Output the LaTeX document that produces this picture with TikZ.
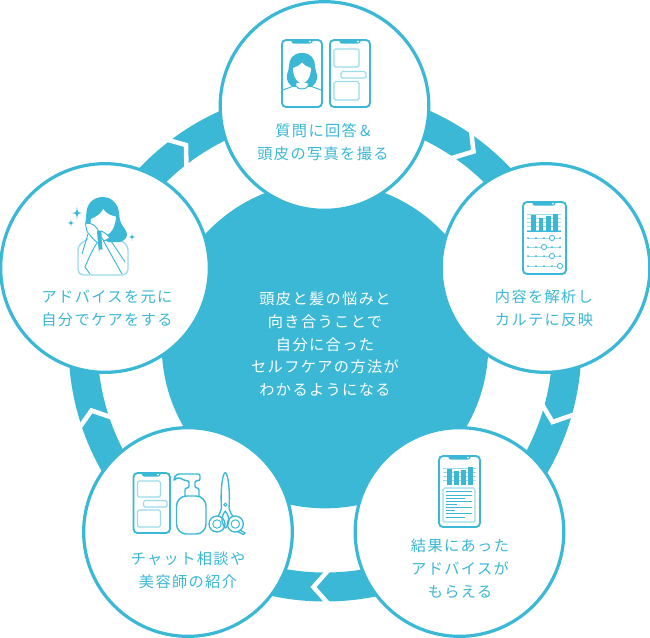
\documentclass[tikz,border=0pt]{standalone}
\usepackage{fontspec}
\newfontfamily\jpf[LetterSpace=9]{Noto Sans CJK JP}
\definecolor{teal1}{HTML}{3AB8D6}
\definecolor{teal2}{HTML}{9ADCEB}
\newcommand{\phonebody}[4]{% x1 y1 x2 y2
  \draw[teal1,line width=1.4,rounded corners=3,fill=white] (#1,#2) rectangle (#3,#4);
}
\newcommand{\notch}[3]{% x1 x2 y
  \fill[teal1] (#1,#3) -- (#2,#3) .. controls (#2-1,#3+3.6) and (#2-2,#3+3.6) .. (#2-3,#3+3.6) -- (#1+3,#3+3.6) .. controls (#1+2,#3+3.6) and (#1+1,#3+3.6) .. (#1,#3) -- cycle;
  \fill[white] (#2-3,#3+1.6) circle (0.9);
}
\newcommand{\bubble}[4]{\draw[bub] (#1,#2) rectangle (#3,#4);}
\newcommand{\sparkle}[3]{\fill[teal1] (#1,#2-#3) .. controls (#1+.1*#3,#2-.1*#3) .. (#1+#3*.8,#2) .. controls (#1+.1*#3,#2+.1*#3) .. (#1,#2+#3) .. controls (#1-.1*#3,#2+.1*#3) .. (#1-#3*.8,#2) .. controls (#1-.1*#3,#2-.1*#3) .. (#1,#2-#3) -- cycle;}
\tikzset{
  x=0.75pt,y=-0.75pt,
  chev/.style={draw=white,line width=3.4pt,line join=miter},
  stepcircle/.style={circle,draw=teal1,line width=2.4pt,fill=white,minimum size=156.5pt,inner sep=0pt},
  lab/.style={text=teal1,font=\jpf\fontsize{11.4pt}{17.2pt}\selectfont,align=center,inner sep=0pt},
  centerlab/.style={text=white,font=\jpf\fontsize{11.4pt}{17.2pt}\selectfont,align=center,inner sep=0pt},
  thin1/.style={draw=teal1,line width=0.7pt},
  thin2/.style={draw=teal2,line width=0.6pt},
  bub/.style={draw=teal2,line width=0.9pt,rounded corners=1.2pt},
  main1/.style={draw=teal1,line width=1pt,line join=round},
}
\begin{document}
\begin{tikzpicture}
\useasboundingbox (0,0) rectangle (650,637);
% ring
\node[circle,draw=teal1,line width=21.75pt,minimum size=363pt,inner sep=0pt] (ring) at (325,345) {};
% chevron gaps
\draw[chev] (161,138) -- (186,145) -- (186.5,170);
\draw[chev] (470.5,125) -- (473.5,151.5) -- (447,159.5);
\draw[chev] (540,401) -- (552.5,422) -- (580,412.5);
\draw[chev] (332,566) -- (313.5,587) -- (332,608);
\draw[chev] (75,434) -- (91.5,410.5) -- (116,419);
% centre disc
\node[circle,fill=teal1,minimum size=245pt,inner sep=0pt] (disc) at (325,345) {};
% circles
\node[stepcircle] (top) at (324.5,106) {};
\node[stepcircle] (right) at (545.5,268) {};
\node[stepcircle] (bright) at (459.5,532) {};
\node[stepcircle] (bleft) at (188,532) {};
\node[stepcircle] (left) at (105,268) {};

% top icon: left phone
\phonebody{282}{40}{322}{107}
\notch{291}{313}{40}
\fill[teal1] (302,53) .. controls (293,53) and (289,59) .. (289,66) .. controls (289,71) and (286,74) .. (287,79) .. controls (288,84) and (292,88) .. (297,87) -- (307,87) .. controls (312,88) and (316,84) .. (317,79) .. controls (318,74) and (315,71) .. (315,66) .. controls (315,59) and (311,53) .. (302,53) -- cycle;
\fill[white] (302,62.5) .. controls (299,66) and (296,67) .. (293,68) .. controls (293,76) and (297,83.5) .. (302,83.5) .. controls (307,83.5) and (311,76) .. (311,68) .. controls (308,67) and (305,66) .. (302,62.5) -- cycle;
\draw[thin1,fill=white] (296,83) -- (296,86) .. controls (298,90) and (306,90) .. (308,86) -- (308,83);
\draw[thin1] (283,90) -- (295,85.5) (309,85.5) -- (321,90);
% top icon: right phone
\phonebody{330}{40}{370}{107}
\notch{339}{361}{40}
\bubble{334}{49}{359}{67}
\bubble{341}{71.5}{366}{78}
\bubble{334}{81.5}{359}{100}

% right icon
\phonebody{523}{202}{566}{274}
\notch{532}{556}{202}
\foreach \yy in {214,218,222,226,230} \draw[thin2] (527,\yy) -- (561,\yy);
\foreach \xa/\ya in {531/215,538.5/218,546/216,553/213.5} \fill[teal1] (\xa,\ya) rectangle (\xa+4.6,231);
\draw[thin1] (527,231.5) -- (561,231.5);
\foreach \yy/\rr in {238/552,247/544,256/552,266/560}{
  \draw[teal2,line width=.7pt] (528,\yy) -- (561,\yy);
  \foreach \dd in {528,536,544,552,560} \fill[teal1] (\dd,\yy) circle (1);
  \draw[teal1,line width=.6pt,fill=white] (\rr,\yy) circle (2.6);
}

% bottom right icon
\phonebody{439}{456}{480}{527}
\notch{448}{471}{456}
\foreach \yy in {468,472,476,480} \draw[thin2] (443,\yy) -- (476,\yy);
\foreach \xa/\ya in {447/468.5,454/471,461/470,468/467} \fill[teal1] (\xa,\ya) rectangle (\xa+4.6,484.5);
\draw[bub] (443,488) rectangle (475,522);
\foreach \yy/\xe in {491.5/472,495/472,498/465,501.5/472,504.5/457,507.5/472,510.5/455,513.5/472,517/465}
  \draw[teal1,line width=.65pt] (446,\yy) -- (\xe,\yy);

% bottom left icon
\phonebody{133.5}{473}{170}{533}
\notch{141.5}{161}{473}
\bubble{137.5}{481}{160.5}{497}
\bubble{143.5}{500.5}{167}{507}
\bubble{137.5}{510}{160.5}{527}
% pump bottle
\draw[main1,line width=1.1pt,rounded corners=1.5] (185,496) -- (185,488) -- (189,488) -- (189,480.7) -- (184,480.7) .. controls (181,478) and (177,477) .. (174,481) -- (174,478) .. controls (176,475) and (178,474) .. (181,474) -- (200,474) -- (200,480.7) -- (195,480.7) -- (195,488) -- (199,488) -- (199,496);
\draw[main1,line width=1.1pt,rounded corners=7.5] (176.5,534) -- (176.5,496) -- (206,496) -- (206,534) -- cycle;
% scissors
\draw[main1] (221.5,508) .. controls (220.5,495) and (221.5,480) .. (224,474) .. controls (224.8,472) and (225.8,472) .. (226.5,474) .. controls (229,480) and (230,495) .. (229,508);
\draw[main1] (221.5,508) .. controls (221,511) and (219.5,514) .. (218,516.5);
\draw[main1] (229,508) .. controls (229.5,511) and (231,514) .. (233,516.5);
\draw[main1] (225.2,511) .. controls (222.5,515) and (221.5,518) .. (222,521) .. controls (222.5,524) and (224,527) .. (225.5,528) .. controls (227.5,526) and (229,523) .. (229,520) .. controls (229,517) and (227.5,514) .. (225.2,511) -- cycle;
\draw[main1] (217,524) circle (8);
\draw[thin1] (217,524) circle (4.2);
\draw[main1] (235.3,524) circle (8);
\draw[thin1] (235.3,524) circle (4.2);
\draw[main1] (240,530) -- (245,533) -- (243.5,534.5) -- (237.5,531.5);
\draw[teal1,line width=.7pt,fill=white] (225.3,504.7) circle (1.6);

% left icon
\draw[thin2,line width=1pt,rounded corners=4] (88,239) -- (78,245) -- (78,275) -- (128,275) -- (128,245) -- (118,239);
\fill[teal1] (103,197) .. controls (93,197) and (87,204) .. (86.5,212) .. controls (86,217) and (85.5,221) .. (85.5,225) -- (100,236) -- (108,242) -- (120,242) .. controls (126,240) and (128,236) .. (126.5,232) .. controls (125,228) and (121,225) .. (120,220) .. controls (119,215) and (119,211) .. (118,208) .. controls (115,201) and (110,197) .. (103,197) -- cycle;
\fill[white] (103.3,209) .. controls (101,214) and (96,217) .. (91,219) .. controls (90,222) and (90,226) .. (92,228) -- (100,236) -- (107,235) .. controls (111,233) and (114,228) .. (115,223) .. controls (116,220) and (116,218) .. (115.7,216.5) .. controls (110,215.5) and (105.5,213) .. (103.3,209) -- cycle;
% hands and arms
\draw[teal1,line width=.7pt,fill=white,line join=round] (85.5,223) .. controls (89,223) and (93,224) .. (95,226) .. controls (98,229) and (99,233) .. (101,236) -- (98,243) .. controls (95,241) and (92,238) .. (90,235) .. controls (87,233) and (86,229) .. (85.5,223) -- cycle;
\draw[teal1,line width=.7pt,fill=white,line join=round] (101,231) .. controls (104,232) and (108,235) .. (110,238) -- (104,241) -- (101,237) -- cycle;
\fill[teal1] (97,231) -- (101,230.5) -- (102.5,250) -- (100,249) -- (99,252) -- (98,243) -- cycle;
\draw[teal1,line width=.7pt] (88,234) -- (82,254);
\draw[teal1,line width=.7pt] (97,243) .. controls (92,250) and (88,260) .. (85,267) -- (90,274);
\draw[teal1,line width=.7pt] (103.5,241) -- (122,274);
\draw[teal1,line width=.7pt] (109,238) -- (125,262);
\sparkle{77}{213}{6.5}
\sparkle{71}{223}{4}
\sparkle{132}{237}{4}

% labels
\node[lab] (ltop) at (323,142) {質問に回答\hspace{2.5pt}\&\\頭皮の写真を撮る};
\node[lab] (lright) at (544,308) {内容を解析し\\カルテに反映};
\node[lab] (lbright) at (460,569) {結果にあった\\アドバイスが\\もらえる};
\node[lab] (lbleft) at (188,570) {チャット相談や\\美容師の紹介};
\node[lab] (lleft) at (107,308) {アドバイスを元に\\自分でケアをする};
\node[centerlab] (lcenter) at (325,344) {頭皮と髪の悩みと\\向き合うことで\\自分に合った\\セルフケアの方法が\\わかるようになる};
\end{tikzpicture}
\end{document}
